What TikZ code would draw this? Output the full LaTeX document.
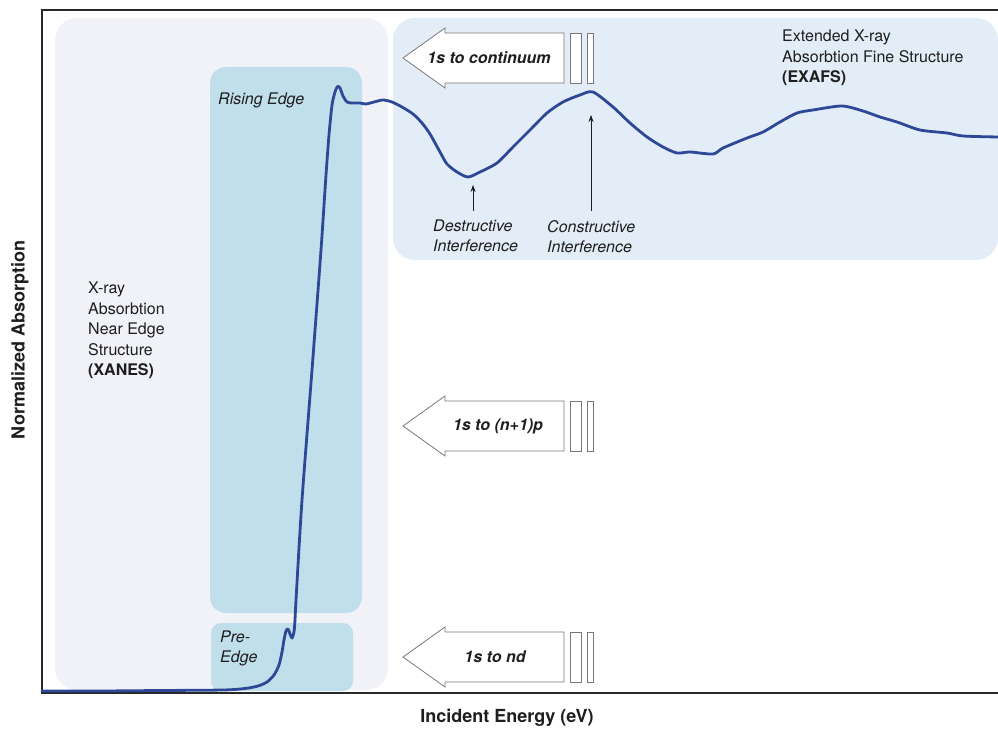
\documentclass[tikz,border=0pt]{standalone}
\usepackage{fontspec}
\setmainfont{TeX Gyre Heros}
\usetikzlibrary{arrows.meta}
\definecolor{xanesbg}{RGB}{240,242,247}
\definecolor{exafsbg}{RGB}{226,237,248}
\definecolor{edgebg}{RGB}{193,222,235}
\definecolor{curve}{RGB}{45,72,150}
\definecolor{txt}{RGB}{30,30,30}
\definecolor{frame}{RGB}{40,40,40}
\definecolor{outl}{RGB}{120,120,120}
\tikzset{
  lbl/.style={font=\fontsize{16}{20.5}\selectfont, text=txt, inner sep=0pt, align=left},
  ilbl/.style={font=\fontsize{16}{20}\selectfont\itshape, text=txt, inner sep=0pt, align=left},
  arrtxt/.style={font=\fontsize{16}{20}\selectfont\bfseries\itshape, text=txt, inner sep=0pt},
  axlbl/.style={font=\fontsize{18}{22}\selectfont\bfseries, text=txt, inner sep=0pt},
  tr/.style={draw=outl, line width=0.8pt, fill=white},
  annot/.style={draw=txt, line width=0.7pt, -{Stealth[length=7pt,width=5pt]}},
  transarrow/.pic={
    \draw[tr] (403,0) -- (445,-30) -- (445,-25) -- (564,-25) -- (564,25) -- (445,25) -- (445,30) -- cycle;
    \draw[tr] (570,-25) rectangle (581,25);
    \draw[tr] (587,-25) rectangle (593,25);
  }
}
\begin{document}
\begin{tikzpicture}[x=1pt,y=-1pt]
\path[use as bounding box, fill=white] (0,0) rectangle (998,730);
% regions
\fill[xanesbg, rounded corners=22pt] (55,18) rectangle (388,690);
\fill[exafsbg, rounded corners=22pt] (393,18) rectangle (998,260);
\fill[edgebg, rounded corners=16pt] (210,67) rectangle (362,613);
\fill[edgebg, rounded corners=10pt] (211,623) rectangle (353,691);
% frame
\draw[frame, line width=1.6pt] (998,10) -- (42,10) -- (42,693) -- (998,693);
% transition arrows
\pic at (0,58) {transarrow};
\pic at (0,426) {transarrow};
\pic at (0,657) {transarrow};
\node[arrtxt] (tcont) at (489,58) {1s to continuum};
\node[arrtxt] (tnp) at (498,426) {1s to (n+1)p};
\node[arrtxt] (tnd) at (495,657) {1s to nd};
% spectrum
\draw[curve, line width=2.8pt, line join=round, line cap=round] plot[smooth, tension=0.45] coordinates {
(42,691) (100,691) (160,690.5) (223,690) (245,688.5) (258,686) (267,682) (274,675) (279,665) (282,652) (284,640) (286,631) (288,629) (290,634) (292,638) (294,632) (295,620) (296,600) (302,500) (312,370) (321,250) (326,175) (329,135) (332,105) (335,92) (337.5,86.5) (340,88) (343,96) (347,102) (352,103) (360,103) (366,104) (374,102) (383,100) (392,102) (402,107) (413,114) (422,123) (430,134) (440,152) (447,164) (457,172) (468,177) (480,172) (497,163) (513,147) (530,130) (547,113) (563,102) (580,95) (593,92) (613,107) (630,123) (647,137) (663,147) (677,153) (690,152) (713,154) (723,148) (747,138) (763,132) (780,122) (797,113) (813,110) (842,106) (863,111) (880,117) (897,122) (920,130) (947,133) (963,136) (998,137)};
% labels
\node[lbl, anchor=north west] (xanes) at (88,282) {X-ray\\Absorbtion\\Near Edge\\Structure\\\textbf{(XANES)}};
\node[lbl, anchor=north west] (exafs) at (782,30) {Extended X-ray\\Absorbtion Fine Structure\\\textbf{(EXAFS)}};
\node[ilbl, anchor=west] (rising) at (218,100) {Rising Edge};
\node[ilbl, anchor=north west] (pre) at (220,631) {Pre-\\Edge};
\node[ilbl, anchor=north west] (dlab) at (433,220) {Destructive\\Interference};
\node[ilbl, anchor=north west] (clab) at (547,220) {Constructive\\Interference};
\coordinate (dmin) at (473,185);
\coordinate (dfoot) at (473,211);
\coordinate (cmax) at (591,115);
\coordinate (cfoot) at (591,211);
\draw[annot] (dfoot) -- (dmin);
\draw[annot] (cfoot) -- (cmax);
% axes labels
\node[axlbl] (xax) at (507,718) {Incident Energy (eV)};
\node[axlbl, rotate=90] (yax) at (20,340) {Normalized Absorption};
\end{tikzpicture}
\end{document}
